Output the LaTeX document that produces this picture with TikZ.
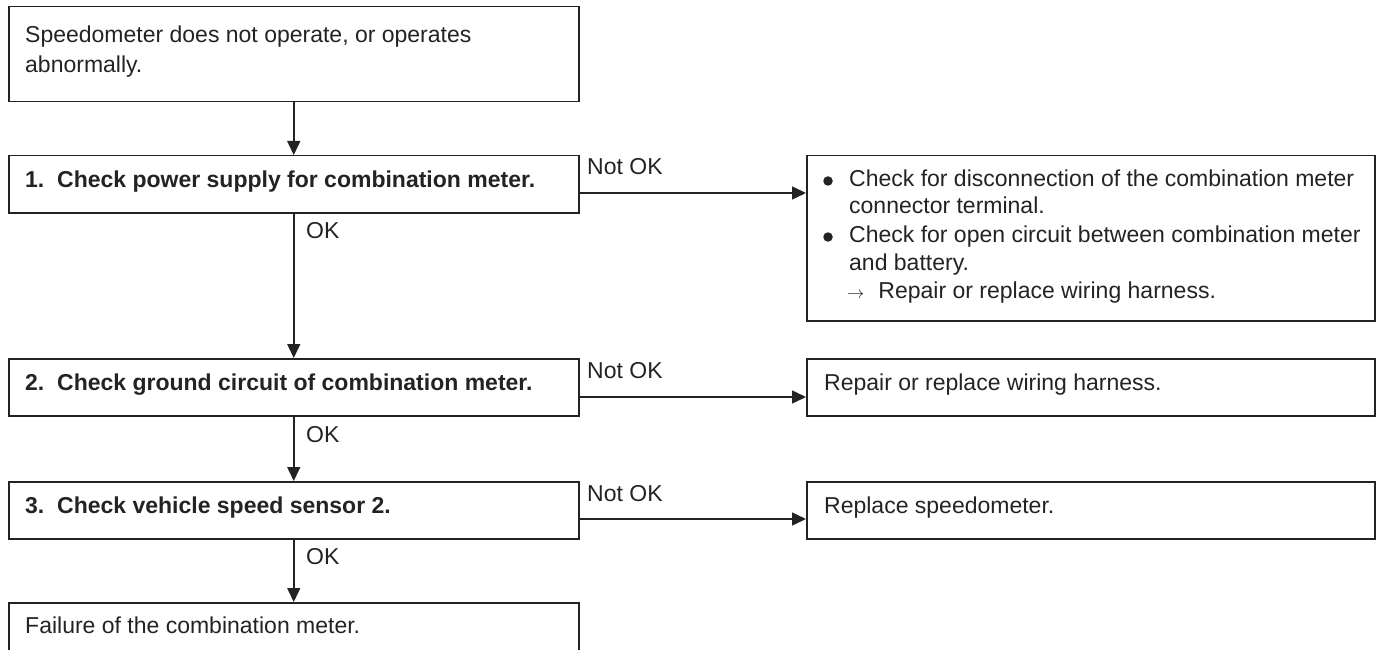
\documentclass[tikz,border=0pt]{standalone}
\usepackage{fontspec}
\setmainfont{Liberation Sans}
\usetikzlibrary{arrows.meta,calc}
\definecolor{ink}{RGB}{35,35,35}
\begin{document}
\begin{tikzpicture}[x=1pt,y=-1pt,
  box/.style={draw=ink, line width=1.5pt, rectangle, inner sep=0pt, anchor=north west},
  txt/.style={anchor=base west, inner sep=0pt, text=ink, font=\fontsize{23}{28}\selectfont},
  btxt/.style={txt, font=\fontsize{23}{28}\selectfont\bfseries},
  dot/.style={circle, fill=ink, inner sep=0pt, minimum size=9.5pt},
  arr/.style={draw=ink, line width=1.5pt, -{Triangle[length=14pt,width=13pt]}}
]
\useasboundingbox (0,0) rectangle (1377,650);
\clip (0,0) rectangle (1377,650);
% left column boxes
\node[box, minimum width=570pt, minimum height=95pt] (b0) at (8,6) {};
\node[box, minimum width=570pt, minimum height=57pt] (b1) at (8,155) {};
\node[box, minimum width=570pt, minimum height=57pt] (b2) at (8,358) {};
\node[box, minimum width=570pt, minimum height=57pt] (b3) at (8,481) {};
\node[box, minimum width=570pt, minimum height=60pt] (b4) at (8,602) {};
% right column boxes
\node[box, minimum width=568pt, minimum height=165pt] (r1) at (806,155) {};
\node[box, minimum width=568pt, minimum height=57pt] (r2) at (806,358) {};
\node[box, minimum width=568pt, minimum height=57pt] (r3) at (806,481) {};
% texts
\node[txt] (t0a) at (25,43) {Speedometer does not operate, or operates};
\node[txt] (t0b) at (25,73) {abnormally.};
\node[btxt] (t1) at (25,187) {1.\ \ Check power supply for combination meter.};
\node[btxt] (t2) at (25,390) {2.\ \ Check ground circuit of combination meter.};
\node[btxt] (t3) at (25,513) {3.\ \ Check vehicle speed sensor 2.};
\node[txt] (t4) at (25,633) {Failure of the combination meter.};
\node[dot] (u1a) at (828,181) {};
\node[txt] (u1b) at (849,186) {Check for disconnection of the combination meter};
\node[txt] (u1c) at (849,214) {connector terminal.};
\node[dot] (u1d) at (828,237) {};
\node[txt] (u1e) at (849,242) {Check for open circuit between combination meter};
\node[txt] (u1f) at (849,270) {and battery.};
\node[txt] (u1g) at (847,298) {{\fontsize{19}{19}\selectfont$\rightarrow$}\hspace{14pt}Repair or replace wiring harness.};
\node[txt] (u2) at (824,390) {Repair or replace wiring harness.};
\node[txt] (u3) at (824,513) {Replace speedometer.};
% labels
\node[txt] (n1) at (587,175) {Not OK};
\node[txt] (n2) at (587,378) {Not OK};
\node[txt] (n3) at (587,501) {Not OK};
\node[txt] (o1) at (306,238) {OK};
\node[txt] (o2) at (306,442) {OK};
\node[txt] (o3) at (306,564) {OK};
% connectors
\draw[arr] (b0.south) -- (b1.north);
\draw[arr] (b1.south) -- (b2.north);
\draw[arr] (b2.south) -- (b3.north);
\draw[arr] (b3.south) -- (b4.north);
\draw[arr] (b1.east |- 0,193) -- (r1.west |- 0,193);
\draw[arr] (b2.east |- 0,397) -- (r2.west |- 0,397);
\draw[arr] (b3.east |- 0,519) -- (r3.west |- 0,519);
\end{tikzpicture}
\end{document}
